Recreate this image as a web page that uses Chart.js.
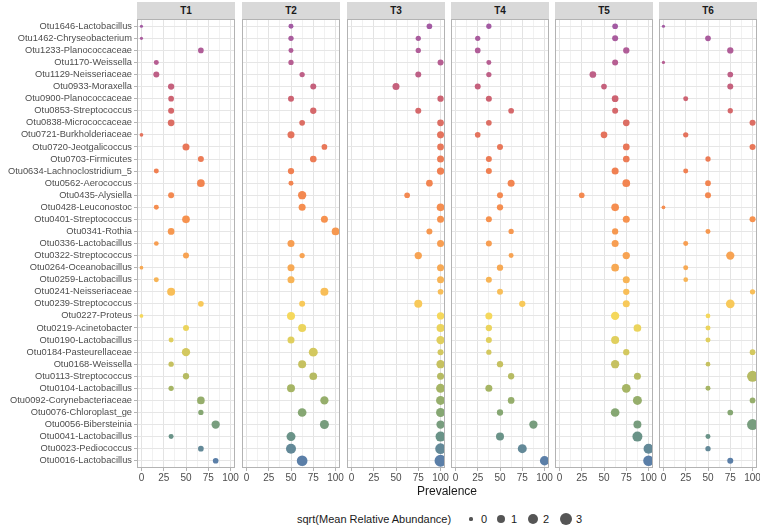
<!DOCTYPE html>
<html>
<head>
<meta charset="utf-8">
<script src="https://cdn.jsdelivr.net/npm/chart.js@4.4.1/dist/chart.umd.min.js"></script>
<style>
  body { margin: 0; background: #fff; font-family: "Liberation Sans", Arial, sans-serif; }
  #wrap { position: relative; width: 760px; height: 528px; overflow: hidden; }
  #wrap canvas { position: absolute; }
  .strip { position: absolute; top: 2px; height: 17px; background: #D9D9D9; color: #1A1A1A;
           font-weight: bold; font-size: 10px; line-height: 17px; text-align: center; }
  #xtitle { position: absolute; top: 484px; left: 137px; width: 620px; text-align: center;
            font-size: 12px; color: #1A1A1A; }
  .lg { position: absolute; font-size: 11px; color: #1A1A1A; line-height: 14px; top: 512px; }
  .dot { position: absolute; border-radius: 50%; background: #555; }
</style>
</head>
<body>
<div id="wrap"></div>
<script>
const categories = [
  "Otu1646-Lactobacillus", "Otu1462-Chryseobacterium", "Otu1233-Planococcaceae",
  "Otu1170-Weissella", "Otu1129-Neisseriaceae", "Otu0933-Moraxella",
  "Otu0900-Planococcaceae", "Otu0853-Streptococcus", "Otu0838-Micrococcaceae",
  "Otu0721-Burkholderiaceae", "Otu0720-Jeotgalicoccus", "Otu0703-Firmicutes",
  "Otu0634-Lachnoclostridium_5", "Otu0562-Aerococcus", "Otu0435-Alysiella",
  "Otu0428-Leuconostoc", "Otu0401-Streptococcus", "Otu0341-Rothia",
  "Otu0336-Lactobacillus", "Otu0322-Streptococcus", "Otu0264-Oceanobacillus",
  "Otu0259-Lactobacillus", "Otu0241-Neisseriaceae", "Otu0239-Streptococcus",
  "Otu0227-Proteus", "Otu0219-Acinetobacter", "Otu0190-Lactobacillus",
  "Otu0184-Pasteurellaceae", "Otu0168-Weissella", "Otu0113-Streptococcus",
  "Otu0104-Lactobacillus", "Otu0092-Corynebacteriaceae", "Otu0076-Chloroplast_ge",
  "Otu0056-Bibersteinia", "Otu0041-Lactobacillus", "Otu0023-Pediococcus",
  "Otu0016-Lactobacillus"
];

const facets = ["T1", "T2", "T3", "T4", "T5", "T6"];

// prevalence (%) per OTU, same order as categories
const t1Prev = [0, 0, 66.7, 16.7, 16.7, 33.3, 33.3, 33.3, 33.3, 0, 50, 66.7, 16.7, 66.7, 33.3, 16.7, 50,
  33.3, 16.7, 50, 0, 16.7, 33.3, 66.7, 0, 50, 33.3, 50, 33.3, 50, 33.3, 66.7, 66.7, 83.3, 33.3, 66.7, 83.3];
const t2Prev = [50, 50, 50, 50, 62.5, 75, 50, 75, 62.5, 50, 87.5, 75, 50, 50, 62.5, 62.5, 87.5,
  100, 50, 62.5, 50, 50, 87.5, 62.5, 50, 62.5, 50, 75, 62.5, 75, 50, 87.5, 62.5, 87.5, 50, 50, 62.5];
const t3Prev = [87.5, 75, 75, 100, 75, 50, 100, 75, 100, 100, 100, 100, 100, 87.5, 62.5, 100, 100,
  87.5, 100, 75, 100, 100, 100, 75, 100, 100, 100, 100, 100, 100, 100, 100, 100, 100, 100, 100, 100];
const t4Prev = [37.5, 25, 25, 37.5, 37.5, 25, 37.5, 62.5, 37.5, 25, 50, 37.5, 37.5, 62.5, 50, 50, 37.5,
  62.5, 37.5, 62.5, 50, 37.5, 50, 75, 37.5, 37.5, 37.5, 37.5, 50, 62.5, 37.5, 62.5, 50, 87.5, 50, 75, 100];
const t5Prev = [62.5, 62.5, 75, 62.5, 37.5, 50, 62.5, 62.5, 75, 50, 75, 75, 62.5, 75, 25, 62.5, 75,
  62.5, 62.5, 75, 62.5, 75, 75, 75, 62.5, 87.5, 62.5, 75, 62.5, 87.5, 75, 87.5, 62.5, 87.5, 87.5, 100, 100];
const t6Prev = [0, 50, 75, 0, 75, 75, 25, 75, 100, 25, 100, 50, 25, 50, 50, 0, 100,
  50, 25, 75, 25, 25, 100, 75, 50, 50, 50, 100, 50, 100, 50, 100, 75, 100, 50, 50, 75];

// sqrt(mean relative abundance) per OTU
const t1Abund = [0, 0, 0.21, 0.11, 0.27, 0.33, 0.21, 0.27, 0.42, 0.01, 0.5, 0.27, 0.11, 0.69, 0.27, 0.11, 0.69,
  0.42, 0.08, 0.27, 0.01, 0.11, 0.79, 0.21, 0.01, 0.27, 0.11, 0.89, 0.15, 0.33, 0.15, 0.69, 0.15, 0.89, 0.11, 0.21, 0.21];
const t2Abund = [0.11, 0.15, 0.11, 0.15, 0.15, 0.27, 0.27, 0.33, 0.21, 0.5, 0.21, 0.42, 0.33, 0.11, 0.89, 0.5, 0.5,
  0.69, 0.5, 0.15, 0.5, 0.5, 0.79, 0.27, 0.79, 0.79, 0.5, 1.15, 0.79, 0.69, 0.79, 0.89, 1.04, 1.15, 1.15, 1.59, 1.93];
const t3Abund = [0.21, 0.15, 0.15, 0.27, 0.27, 0.5, 0.33, 0.27, 0.42, 0.5, 0.42, 0.5, 0.58, 0.42, 0.21, 0.69, 0.5,
  0.27, 0.5, 0.58, 0.5, 0.5, 0.21, 0.79, 0.58, 0.79, 0.89, 0.27, 0.89, 0.5, 1.15, 1.15, 1.15, 0.89, 1.59, 1.93, 2.66];
const t4Abund = [0.15, 0.15, 0.21, 0.11, 0.15, 0.27, 0.27, 0.21, 0.21, 0.21, 0.27, 0.27, 0.27, 0.5, 0.27, 0.33, 0.27,
  0.15, 0.27, 0.11, 0.33, 0.27, 0.27, 0.33, 0.5, 0.33, 0.27, 0.15, 0.33, 0.33, 0.5, 0.42, 0.33, 0.89, 0.79, 1.15, 1.28];
const t5Abund = [0.21, 0.27, 0.33, 0.27, 0.42, 0.21, 0.42, 0.27, 0.42, 0.42, 0.42, 0.42, 0.5, 0.69, 0.21, 0.69, 0.5,
  0.33, 0.5, 0.58, 0.69, 0.5, 0.33, 0.5, 0.89, 0.69, 0.79, 0.33, 0.89, 0.5, 1.04, 1.15, 1.04, 0.79, 1.59, 1.59, 1.93];
const t6Abund = [0, 0.21, 0.33, 0, 0.21, 0.27, 0.11, 0.15, 0.27, 0.15, 0.27, 0.15, 0.11, 0.21, 0.27, 0.01, 0.27,
  0.11, 0.11, 0.89, 0.11, 0.08, 0.15, 1.04, 0.08, 0.11, 0.11, 0.21, 0.08, 2.09, 0.11, 0.21, 0.21, 2.09, 0.11, 0.15, 0.27];

const prevalenceTicks = [0, 25, 50, 75, 100];
const prevalenceGrid = [0, 12.5, 25, 37.5, 50, 62.5, 75, 87.5, 100];
const legendValues = [0, 1, 2, 3];

const prevalence = [t1Prev, t2Prev, t3Prev, t4Prev, t5Prev, t6Prev];
const abundance = [t1Abund, t2Abund, t3Abund, t4Abund, t5Abund, t6Abund];

// colour ramp down the rows, purple at top to blue at bottom
const rampStops = [
  [0, "#A35BA3"], [3, "#B65E92"], [6, "#CD6372"], [9, "#E4735D"], [12, "#F08052"],
  [16, "#F6924F"], [20, "#F7A954"], [23, "#F8C95A"], [24, "#F5D85C"], [26, "#E0CF5E"],
  [28, "#C6C160"], [30, "#A6B565"], [32, "#86A773"], [34, "#6A9388"], [36, "#5B7FA8"],
];

function hexToRgb(h) {
  return [1, 3, 5].map((i) => parseInt(h.slice(i, i + 2), 16));
}

function rowColor(k) {
  for (let s = 0; s < rampStops.length - 1; s++) {
    const [k0, c0] = rampStops[s];
    const [k1, c1] = rampStops[s + 1];
    if (k >= k0 && k <= k1) {
      const t = (k - k0) / (k1 - k0);
      const a = hexToRgb(c0);
      const b = hexToRgb(c1);
      const rgb = a.map((v, i) => Math.round(v + (b[i] - v) * t));
      return `rgb(${rgb.join(",")})`;
    }
  }
  return rampStops[rampStops.length - 1][1];
}

// ggplot-like area scale for point size
const sizeToRadius = (v) => 1.6 + 2.7 * Math.sqrt(v);

const wrap = document.getElementById("wrap");
const panelLeft = [137, 242, 347, 451, 555, 659];
const panelW = 98;
const panelTop = 19;
const panelH = 449;
const padL = 8;
const padR = 10;
const axisH = 22;
const font = "'Liberation Sans', Arial, sans-serif";

const panelBorder = {
  id: "panelBorder",
  afterDraw(chart) {
    const { ctx, chartArea: a } = chart;
    ctx.save();
    ctx.strokeStyle = "#B3B3B3";
    ctx.lineWidth = 1;
    ctx.strokeRect(Math.round(a.left) + 0.5, Math.round(a.top) + 0.5,
      Math.round(a.width) - 1, Math.round(a.height) - 1);
    ctx.restore();
  },
};

facets.forEach((name, i) => {
  const first = i === 0;
  const yW = first ? panelLeft[0] - padL : 0;
  const canvas = document.createElement("canvas");
  const w = padL + yW + panelW + padR;
  const h = panelH + axisH;
  canvas.width = w;
  canvas.height = h;
  canvas.style.left = (panelLeft[i] - padL - yW) + "px";
  canvas.style.top = panelTop + "px";
  wrap.appendChild(canvas);

  const strip = document.createElement("div");
  strip.className = "strip";
  strip.style.left = panelLeft[i] + "px";
  strip.style.width = panelW + "px";
  strip.textContent = name;
  wrap.appendChild(strip);

  const values = abundance[i];
  const data = prevalence[i].map((p, k) => ({ x: p, y: k }));

  new Chart(canvas, {
    type: "bubble",
    data: {
      datasets: [{
        data,
        backgroundColor: (ctx) => rowColor(ctx.dataIndex),
        borderWidth: 0,
        radius: (ctx) => sizeToRadius(values[ctx.dataIndex]),
        hoverRadius: 0,
        clip: 0,
      }],
    },
    options: {
      responsive: false,
      animation: false,
      devicePixelRatio: 1,
      layout: { autoPadding: false, padding: { left: padL, right: padR, top: 0, bottom: 0 } },
      plugins: { legend: { display: false }, tooltip: { enabled: false } },
      scales: {
        x: {
          type: "linear",
          min: -5,
          max: 105,
          afterBuildTicks: (s) => { s.ticks = prevalenceGrid.map((v) => ({ value: v })); },
          afterFit: (s) => { s.height = axisH; },
          ticks: {
            autoSkip: false,
            maxRotation: 0,
            padding: 1,
            color: "#4D4D4D",
            font: { family: font, size: 10 },
            callback: (v) => (prevalenceTicks.includes(v) ? v : ""),
          },
          grid: {
            color: (c) => (c.tick && prevalenceTicks.includes(c.tick.value) ? "#E3E3E3" : "#F1F1F1"),
            tickLength: 3,
            tickColor: (c) => (c.tick && prevalenceTicks.includes(c.tick.value) ? "#B3B3B3" : "rgba(0,0,0,0)"),
          },
          border: { display: false },
        },
        y: {
          type: "linear",
          reverse: true,
          min: -0.6,
          max: categories.length - 0.4,
          afterBuildTicks: (s) => { s.ticks = categories.map((c, k) => ({ value: k })); },
          afterFit: (s) => { s.width = yW; s.paddingTop = 0; s.paddingBottom = 0; },
          ticks: {
            display: first,
            autoSkip: false,
            padding: 2,
            color: "#4D4D4D",
            font: { family: font, size: 9.3 },
            callback: (v) => categories[v],
          },
          grid: {
            color: "#E6E6E6",
            drawTicks: first,
            tickLength: 3,
            tickColor: "#B3B3B3",
          },
          border: { display: false },
        },
      },
    },
    plugins: [panelBorder],
  });
});

// axis title
const xtitle = document.createElement("div");
xtitle.id = "xtitle";
xtitle.textContent = "Prevalence";
wrap.appendChild(xtitle);

// size legend
const lgTitle = document.createElement("div");
lgTitle.className = "lg";
lgTitle.style.left = "297px";
lgTitle.textContent = "sqrt(Mean Relative Abundance)";
wrap.appendChild(lgTitle);

const keyCenters = [471, 501, 533, 566];
legendValues.forEach((v, k) => {
  const d = 2 * sizeToRadius(v);
  const dot = document.createElement("div");
  dot.className = "dot";
  dot.style.width = d + "px";
  dot.style.height = d + "px";
  dot.style.left = (keyCenters[k] - d / 2) + "px";
  dot.style.top = (519 - d / 2) + "px";
  wrap.appendChild(dot);

  const lab = document.createElement("div");
  lab.className = "lg";
  lab.style.left = (keyCenters[k] + 10) + "px";
  lab.textContent = v;
  wrap.appendChild(lab);
});
</script>
</body>
</html>
